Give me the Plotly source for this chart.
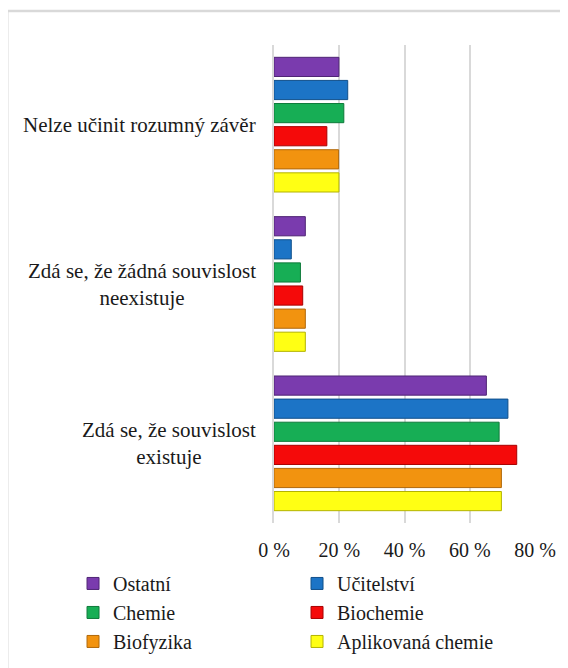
import plotly.graph_objects as go

categories = ["Zdá se, že souvislost<br>existuje",
              "Zdá se, že žádná souvislost<br>neexistuje",
              "Nelze učinit rozumný závěr"]

# series listed bottom-to-top within each group
series_names = ["Aplikovaná chemie", "Biofyzika", "Biochemie", "Chemie", "Učitelství", "Ostatní"]
aplikovana = [69.7, 9.6, 19.9]
biofyzika = [69.7, 9.6, 19.8]
biochemie = [74.4, 8.8, 16.2]
chemie = [69.0, 8.1, 21.4]
ucitelstvi = [71.7, 5.3, 22.6]
ostatni = [65.1, 9.6, 19.9]
series_values = [aplikovana, biofyzika, biochemie, chemie, ucitelstvi, ostatni]

fill_colors = ["#FFFF14", "#F2930F", "#F50A0A", "#17AE55", "#1C74C6", "#7A3BAE"]
line_colors = ["#B3B300", "#B0680A", "#A80000", "#0E7A3A", "#104F8A", "#4F2575"]

tick_vals = [0, 20, 40, 60, 80]
tick_text = ["0 %", "20 %", "40 %", "60 %", "80 %"]

FONT = "Liberation Serif"
TXT = "#1a1a1a"

fig = go.Figure()
for name, vals, fc, lc in zip(series_names, series_values, fill_colors, line_colors):
    fig.add_trace(go.Bar(
        y=categories, x=vals, name=name, orientation="h",
        marker=dict(color=fc, line=dict(color=lc, width=1)),
    ))

annotations = []
for c in categories:
    annotations.append(dict(
        x=-0.061, xref="paper", xanchor="right",
        y=c, yref="y", yanchor="middle",
        text=c, showarrow=False, align="center",
        font=dict(family=FONT, size=21, color=TXT),
    ))

fig.update_layout(
    width=560, height=660,
    margin=dict(l=266, r=33, t=37, b=145, autoexpand=False),
    paper_bgcolor="white", plot_bgcolor="white",
    barmode="group", bargap=0.13, bargroupgap=0.17,
    font=dict(family=FONT, size=20, color=TXT),
    xaxis=dict(range=[0, 80], tickvals=tick_vals, ticktext=tick_text,
               showgrid=True, gridcolor="#D9D9D9", gridwidth=2,
               zeroline=False, showline=False, ticks="",
               ticklabelstandoff=13,
               tickfont=dict(family=FONT, size=20, color=TXT)),
    yaxis=dict(showticklabels=False, showgrid=False, zeroline=False,
               showline=True, linecolor="#D9D9D9", linewidth=2, ticks=""),
    legend=dict(orientation="h", traceorder="reversed",
                x=-0.770, xanchor="left", y=-0.0857, yanchor="top",
                entrywidth=179, entrywidthmode="pixels",
                font=dict(family=FONT, size=20, color=TXT),
                bgcolor="rgba(0,0,0,0)", itemclick=False),
    annotations=annotations,
    shapes=[dict(type="rect", xref="paper", yref="paper",
                 x0=-1.022, x1=1.2, y0=-0.4, y1=1.071,
                 line=dict(color="#D9D9D9", width=2.5), layer="below")],
    showlegend=True,
)

fig.write_html("out.html")
